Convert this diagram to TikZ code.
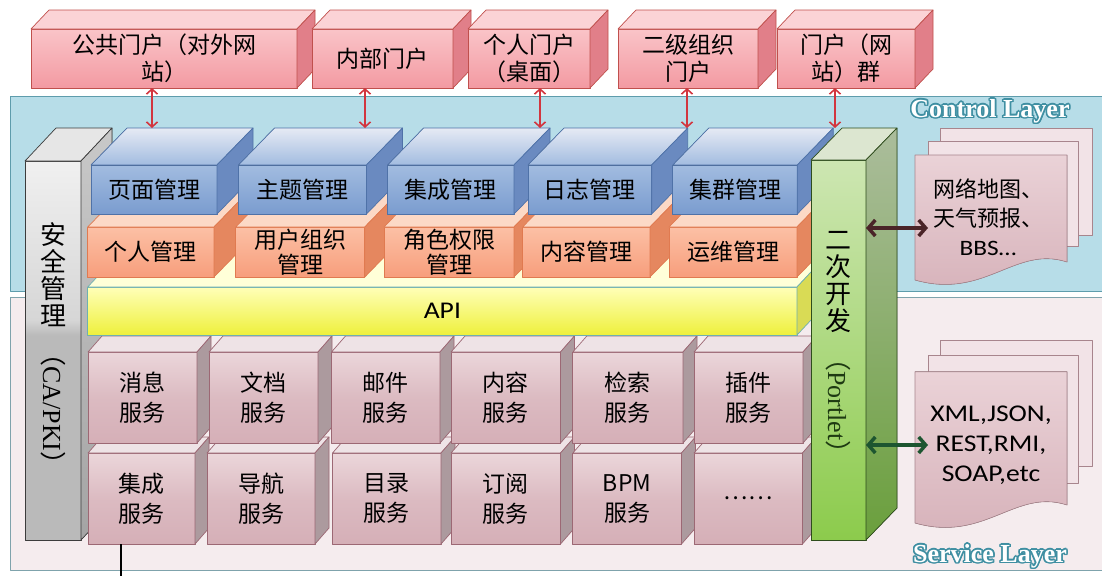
\documentclass[tikz,border=0pt]{standalone}
\usepackage{fontspec}
\usepackage{xcolor}
\usepackage[copies]{contour}
\usetikzlibrary{arrows.meta}

\newfontfamily\cnfont{Noto Sans CJK SC}
\newfontfamily\enfont[FakeStretch=1.15]{Carlito}
\newfontfamily\serfont{Liberation Serif}
\contourlength{1.5pt}

% colours
\definecolor{ctlbg}{HTML}{B7DDE8}
\definecolor{ctlline}{HTML}{5E9CAC}
\definecolor{svcbg}{HTML}{F5ECEE}
\definecolor{svcline}{HTML}{7FA3AC}
\definecolor{lbloutline}{HTML}{3F8FA2}
\definecolor{portalhi}{HTML}{FAC4C8}
\definecolor{portallo}{HTML}{F39AA2}
\definecolor{portaltopc}{HTML}{FBD3D6}
\definecolor{portalsidec}{HTML}{E17F89}
\definecolor{portalline}{HTML}{C0504D}
\definecolor{bluehi}{HTML}{A2BCE0}
\definecolor{bluelo}{HTML}{7A9CCF}
\definecolor{bluetopc}{HTML}{E6EAF4}
\definecolor{bluesidec}{HTML}{6A8AC0}
\definecolor{blueline}{HTML}{4F72A8}
\definecolor{orghi}{HTML}{FCC0A5}
\definecolor{orglo}{HTML}{F79E7C}
\definecolor{orgtopc}{HTML}{FCD9C6}
\definecolor{orgsidec}{HTML}{E5875F}
\definecolor{orgline}{HTML}{E07A50}
\definecolor{apihi}{HTML}{FFFFB8}
\definecolor{apilo}{HTML}{EEF03C}
\definecolor{apitopc}{HTML}{FFFFD8}
\definecolor{apisidec}{HTML}{D9DB55}
\definecolor{apiline}{HTML}{6FB0B0}
\definecolor{svchi}{HTML}{EBD6DA}
\definecolor{svclo}{HTML}{D5AFB7}
\definecolor{svctopc}{HTML}{EEE3E6}
\definecolor{svcsidec}{HTML}{AC9A9E}
\definecolor{svcboxline}{HTML}{9C6874}
\definecolor{grayhi}{HTML}{F0F0F0}
\definecolor{graymid}{HTML}{D6D6D6}
\definecolor{graylo}{HTML}{BABABA}
\definecolor{graytopc}{HTML}{E6E6E6}
\definecolor{graysidec}{HTML}{A4A4A4}
\definecolor{grayline}{HTML}{3C3C3C}
\definecolor{greenhi}{HTML}{CDE6B2}
\definecolor{greenlo}{HTML}{8CCB4C}
\definecolor{greentopc}{HTML}{DCE6D0}
\definecolor{greensidec}{HTML}{6A9F3C}
\definecolor{greenline}{HTML}{2E4D1C}
\definecolor{greentext}{HTML}{1E3A12}
\definecolor{docback}{HTML}{F2E3E7}
\definecolor{dochi}{HTML}{EAD2D7}
\definecolor{doclo}{HTML}{D6B1B9}
\definecolor{docline}{HTML}{A8858D}
\definecolor{arrowred}{HTML}{D2353E}
\definecolor{ctlarrowc}{HTML}{4A2428}
\definecolor{svcarrowc}{HTML}{1D5530}

\pgfdeclareverticalshading{pillarshade}{100bp}{color(0bp)=(graylo); color(52bp)=(graylo); color(54bp)=(graymid); color(75bp)=(grayhi); color(100bp)=(grayhi)}

% top and side face of a box drawn behind its front node
\newcommand{\boxfaces}[5]{%
  \filldraw[#4] (#1.north west) -- ++(#2,#3) -- ([shift={(#2,#3)}]#1.north east) -- (#1.north east) -- cycle;
  \filldraw[#5] (#1.north east) -- ([shift={(#2,#3)}]#1.north east) -- ([shift={(#2,#3)}]#1.south east) -- (#1.south east) -- cycle;
}

\begin{document}
\begin{tikzpicture}[
        x=1pt, y=-1pt,
        font=\cnfont,
        line join=round,
        cube/.style={draw, line width=0.7pt, inner sep=0pt, outer sep=0pt, anchor=north west, align=center},
        portal/.style={cube, draw=portalline, top color=portalhi, bottom color=portallo, minimum height=59pt, font=\cnfont\fontsize{23}{27}\selectfont},
        portaltop/.style={draw=portalline, line width=0.7pt, fill=portaltopc},
        portalside/.style={draw=portalline, line width=0.7pt, fill=portalsidec},
        mgmt/.style={cube, draw=blueline, top color=bluehi, bottom color=bluelo, minimum height=49pt, font=\cnfont\fontsize{23}{25}\selectfont},
        mgmttop/.style={draw=blueline, line width=0.7pt, top color=bluetopc, bottom color=bluehi},
        mgmtside/.style={draw=blueline, line width=0.7pt, fill=bluesidec},
        user/.style={cube, draw=orgline, top color=orghi, bottom color=orglo, minimum height=50pt, font=\cnfont\fontsize{23}{25}\selectfont},
        usertop/.style={draw=orgline, line width=0.7pt, fill=orgtopc},
        userside/.style={draw=orgline, line width=0.7pt, fill=orgsidec},
        apibar/.style={cube, draw=apiline, top color=apihi, bottom color=apilo, minimum height=48pt, font=\enfont\fontsize{24}{26}\selectfont},
        apitop/.style={draw=apiline, line width=0.7pt, fill=apitopc},
        apiside/.style={draw=apiline, line width=0.7pt, fill=apisidec},
        svcbox/.style={cube, draw=svcboxline, top color=svchi, bottom color=svclo, middle color=svclo!70!svchi, minimum height=91pt, font=\cnfont\fontsize{23}{30}\selectfont},
        svctop/.style={draw=svcboxline, line width=0.7pt, fill=svctopc},
        svcside/.style={draw=svcboxline, line width=0.7pt, fill=svcsidec},
        graytop/.style={draw=grayline, line width=0.7pt, fill=graytopc},
        grayside/.style={draw=grayline, line width=0.7pt, top color=graysidec!60!white, bottom color=graysidec},
        greentop/.style={draw=greenline, line width=0.7pt, fill=greentopc},
        greenside/.style={draw=greenline, line width=0.7pt, top color=greensidec!55!gray!60!white, bottom color=greensidec},
        pillartxt/.style={align=center, font=\cnfont\fontsize{26}{27}\selectfont},
        pillarsub/.style={rotate=-90, font=\cnfont\fontsize{26}{28}\selectfont},
        docpage/.style={draw=docline, line width=0.6pt, fill=docback},
        docfront/.style={draw=docline, line width=0.6pt, top color=dochi, bottom color=doclo},
        doctext/.style={align=center, font=\cnfont\fontsize{22}{29}\selectfont},
        layerlbl/.style={text=white, font=\serfont\bfseries\fontsize{26}{28}\selectfont},
        redarrow/.style={draw=arrowred, line width=1.6pt, arrows={Straight Barb[length=5pt,width=11pt]-Straight Barb[length=5pt,width=11pt]}},
        devarrow/.style={line width=3.5pt, arrows={Straight Barb[length=7pt,width=16pt]-Straight Barb[length=7pt,width=16pt]}}
        ]
    \useasboundingbox (0,0) rectangle (1102,576);

    % LAYERS
    \filldraw[fill=ctlbg, draw=ctlline, line width=1pt] (10.5,96) rectangle (1110,291.5);
    \filldraw[fill=svcbg, draw=svcline, line width=1pt] (10.5,297) rectangle (1110,570);
    \node[layerlbl] (ctllbl) at (990,112) {\contour{lbloutline}{Control Layer}};
    \node[layerlbl] (svclbl) at (990,557) {\contour{lbloutline}{Service Layer}};

    % NODES
    % portals
    \foreach \xa/\xb/\nm/\txt in {31/297/gonggong/{公共门户（对外网\\站）}, 312/453/neibu/内部门户, 468/590/gerenmh/{个人门户\\（桌面）}, 618/758/erji/{二级组织\\门户}, 777/915/qunmh/{门户（网\\站）群}}{
        \node[portal, minimum width={(\xb-\xa)*1pt}] (\nm) at (\xa,29) {\txt};
        \boxfaces{\nm}{18}{-19}{portaltop}{portalside}
    }

    % security pillar
    \node[cube, draw=grayline, shading=pillarshade, minimum width=56pt, minimum height=379pt] (anquan) at (25,161) {};
    \boxfaces{anquan}{31}{-33}{graytop}{grayside}

    % services, lower row first
    \foreach \xa/\xb/\nm/\txt in {88/195/jichengfw/{集成\\服务}, 207/315/daohang/{导航\\服务}, 332.5/441/mulu/{目录\\服务}, 451/560.5/dingyue/{订阅\\服务}, 572.8/681.5/bpm/{BPM\\服务}, 694/802.5/gengduo/……}{
        \node[svcbox, minimum width={(\xb-\xa)*1pt}] (\nm) at (\xa,453) {\txt};
        \boxfaces{\nm}{14}{-16}{svctop}{svcside}
    }
    \foreach \xa/\xb/\nm/\txt in {88/197/xiaoxi/{消息\\服务}, 209/318/wendang/{文档\\服务}, 331.5/440/youjian/{邮件\\服务}, 451/560.5/neirongfw/{内容\\服务}, 572.8/683/jiansuo/{检索\\服务}, 694/803/chajian/{插件\\服务}}{
        \node[svcbox, minimum width={(\xb-\xa)*1pt}] (\nm) at (\xa,352) {\txt};
        \boxfaces{\nm}{14}{-16}{svctop}{svcside}
    }

    % api
    \node[apibar, minimum width=709.3pt] (api) at (87.7,287) {API};
    \boxfaces{api}{30}{-32}{apitop}{apiside}

    % user / content management
    \foreach \xa/\xb/\nm/\txt in {87.7/214/geren/个人管理, 235.7/364.8/yonghu/{用户组织\\管理}, 384/514/juese/{角色权限\\管理}, 522.6/650/neirongmgmt/内容管理, 669/797/yunwei/运维管理}{
        \node[user, minimum width={(\xb-\xa)*1pt}] (\nm) at (\xa,227) {\txt};
        \boxfaces{\nm}{36}{-37}{usertop}{userside}
    }

    % site management
    \foreach \xa/\xb/\nm/\txt in {91/217/yemian/页面管理, 238.5/366.5/zhuti/主题管理, 387.6/514/jichengmgmt/集成管理, 528/651.7/rizhi/日志管理, 672.8/797.3/jiqun/集群管理}{
        \node[mgmt, minimum width={(\xb-\xa)*1pt}] (\nm) at (\xa,165) {\txt};
        \boxfaces{\nm}{36}{-37}{mgmttop}{mgmtside}
    }

    % development pillar
    \node[cube, draw=greenline, top color=greenhi, bottom color=greenlo, minimum width=55pt, minimum height=380pt] (erci) at (811,160) {};
    \boxfaces{erci}{31}{-32}{greentop}{greenside}

    % pillar labels
    \node[pillartxt] (anquanlbl) at (53,275) {安\\全\\管\\理};
    \node[pillarsub] (anquansub) at (53,409) {（{\serfont CA/PKI}）};
    \node[pillartxt] (ercilbl) at (838,282) {二\\次\\开\\发};
    \node[pillarsub, text=greentext] (ercisub) at (838,406) {（{\serfont Portlet}）};

    % documents
    \filldraw[docpage] (940,128) rectangle (1092,235);
    \filldraw[docpage] (928,141.7) rectangle (1078,246.7);
    \filldraw[docfront] (915,155) -- (1067,155) -- (1067,262) .. controls (1015,245) and (985,300) .. (915,280) -- cycle;
    \node[doctext] (webtxt) at (988,217) {网络地图、\\天气预报、\\{\enfont BBS…}};

    \filldraw[docpage] (940,340) rectangle (1092,466.7);
    \filldraw[docpage] (928,355) rectangle (1078,483);
    \filldraw[docfront] (915,371.7) -- (1067,371.7) -- (1067,505) .. controls (1015,488) and (985,543) .. (915,523) -- cycle;
    \node[doctext, font=\enfont\fontsize{24}{30}\selectfont] (fmttxt) at (991,445) {XML,JSON,\\REST,RMI,\\SOAP,etc};

    % ARROWS
    \coordinate (a1) at (152,128);
    \coordinate (a2) at (365,128);
    \coordinate (a3) at (540,128);
    \coordinate (a4) at (687,128);
    \coordinate (a5) at (835,128);
    \draw[redarrow] (a1 |- gonggong.south) -- (a1);
    \draw[redarrow] (a2 |- neibu.south) -- (a2);
    \draw[redarrow] (a3 |- gerenmh.south) -- (a3);
    \draw[redarrow] (a4 |- erji.south) -- (a4);
    \draw[redarrow] (a5 |- qunmh.south) -- (a5);

    \coordinate (c1) at (928,228);
    \coordinate (c2) at (928,445);
    \draw[devarrow, draw=ctlarrowc] (c1 -| erci.east) -- (c1);
    \draw[devarrow, draw=svcarrowc] (c2 -| erci.east) -- (c2);

    \coordinate (tailend) at (121,576);
    \draw[line width=1.2pt] (tailend |- jichengfw.south) -- (tailend);
\end{tikzpicture}
\end{document}
